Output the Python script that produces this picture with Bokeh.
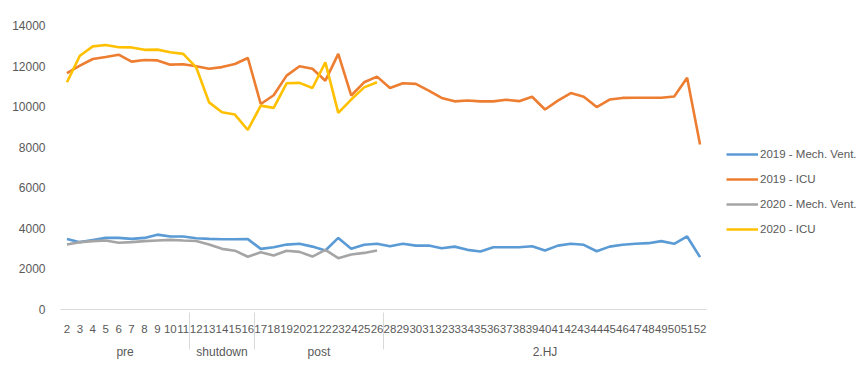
from bokeh.plotting import figure
from bokeh.models import FactorRange, Legend, LegendItem, FixedTicker
from bokeh.embed import file_html
from bokeh.resources import INLINE

# ---- data ----
weeks = [str(w) for w in list(range(2, 27)) + list(range(28, 53))]
group_names = ["pre", "shutdown", "post", "2.HJ"]
group_sizes = [10, 5, 10, 25]

icu_2019 = [11650, 12020, 12350, 12450, 12560, 12220, 12300, 12280, 12070, 12090,
            11990, 11870, 11950, 12100, 12400,
            10130, 10560, 11530, 11990, 11870, 11280, 12600, 10550, 11200, 11480,
            10920, 11150, 11120, 10790, 10430, 10260, 10300, 10260, 10260, 10340,
            10270, 10490, 9860, 10300, 10670, 10490, 9980, 10350, 10430, 10440,
            10440, 10440, 10500, 11420, 8130]
mv_2019 = [3480, 3320, 3430, 3530, 3530, 3480, 3530, 3690, 3600, 3600,
           3510, 3480, 3460, 3460, 3470,
           2990, 3070, 3200, 3240, 3100, 2910, 3530, 2990, 3190, 3240,
           3120, 3240, 3150, 3150, 3020, 3100, 2940, 2860, 3070, 3070,
           3070, 3120, 2910, 3150, 3240, 3190, 2870, 3100, 3190, 3240,
           3270, 3370, 3240, 3600, 2580]
icu_2020 = [11200, 12510, 12970, 13040, 12930, 12920, 12800, 12810, 12680, 12600,
            11940, 10210, 9720, 9610, 8850,
            10050, 9940, 11150, 11170, 10920, 12180, 9690, 10350, 10950, 11200]
mv_2020 = [3200, 3320, 3370, 3400, 3290, 3320, 3370, 3400, 3430, 3400,
           3380, 3200, 2990, 2900, 2600,
           2820, 2660, 2900, 2840, 2610, 2940, 2530, 2710, 2790, 2910]

y_ticks = [0, 2000, 4000, 6000, 8000, 10000, 12000, 14000]

series_names = ["2019 - Mech. Vent.", "2019 - ICU", "2020 - Mech. Vent.", "2020 - ICU"]
series_colors = ["#5B9BD5", "#ED7D31", "#A5A5A5", "#FFC000"]

# ---- build factors ----
group_of = []
for g, n in zip(group_names, group_sizes):
    group_of += [g] * n
factors = list(zip(group_of, weeks))

FONT = "Liberation Sans"
TXT = "#595959"
GRID = "#D9D9D9"

p = figure(frame_width=646, frame_height=284, output_backend="svg", toolbar_location=None,
           x_range=FactorRange(*factors, factor_padding=0, group_padding=0,
                               subgroup_padding=0, range_padding=0),
           y_range=(0, 14000),
           min_border_left=60, min_border_top=25, min_border_bottom=0,
           min_border_right=0)
p.outline_line_color = None
p.xgrid.grid_line_color = None
p.ygrid.grid_line_color = None

r_mv19 = p.line(factors, mv_2019, line_color=series_colors[0], line_width=2.6)
r_icu19 = p.line(factors, icu_2019, line_color=series_colors[1], line_width=2.6)
r_mv20 = p.line(factors[:len(mv_2020)], mv_2020, line_color=series_colors[2], line_width=2.6)
r_icu20 = p.line(factors[:len(icu_2020)], icu_2020, line_color=series_colors[3], line_width=2.6)

# y axis
ya = p.yaxis[0]
ya.ticker = FixedTicker(ticks=y_ticks)
ya.axis_line_color = None
ya.major_tick_line_color = None
ya.minor_tick_line_color = None
ya.major_label_standoff = 9
ya.major_label_text_font = FONT
ya.major_label_text_font_size = "12px"
ya.major_label_text_color = TXT

# x axis
xa = p.xaxis[0]
xa.axis_line_color = GRID
xa.major_tick_line_color = None
xa.minor_tick_line_color = None
xa.major_label_text_font = FONT
xa.major_label_text_font_size = "11.5px"
xa.major_label_text_color = TXT
xa.major_label_standoff = 9
xa.group_text_font = FONT
xa.group_text_font_size = "12px"
xa.group_text_font_style = "normal"
xa.group_text_color = TXT
xa.separator_line_color = GRID
xa.separator_line_width = 1

legend = Legend(items=[
    LegendItem(label=series_names[0], renderers=[r_mv19]),
    LegendItem(label=series_names[1], renderers=[r_icu19]),
    LegendItem(label=series_names[2], renderers=[r_mv20]),
    LegendItem(label=series_names[3], renderers=[r_icu20]),
], location=(20, 70), orientation="vertical")
legend.border_line_color = None
legend.background_fill_alpha = 0
legend.label_text_font = FONT
legend.label_text_font_size = "11.5px"
legend.label_text_color = TXT
legend.glyph_width = 32
legend.label_standoff = 2
legend.spacing = 5
legend.padding = 0
legend.margin = 0
p.add_layout(legend, "right")

open("out.html", "w").write(file_html(p, INLINE))
